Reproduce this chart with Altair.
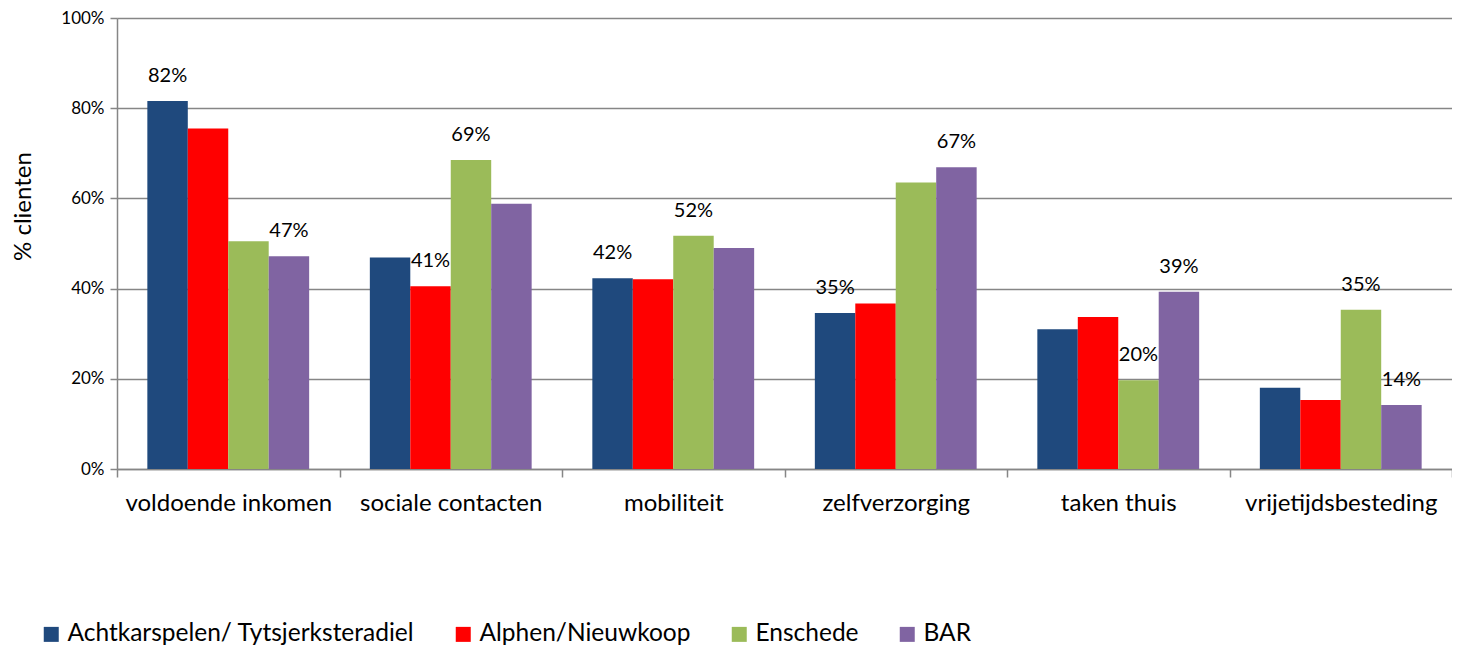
import altair as alt
import pandas as pd

categories = ["voldoende inkomen", "sociale contacten", "mobiliteit",
              "zelfverzorging", "taken thuis", "vrijetijdsbesteding"]
series = ["Achtkarspelen/ Tytsjerksteradiel", "Alphen/Nieuwkoop", "Enschede", "BAR"]
colors = ["#1F497D", "#FF0000", "#9BBB59", "#8064A2"]

vals_achtkarspelen = [81.6, 46.9, 42.3, 34.6, 31.0, 18.0]
vals_alphen = [75.5, 40.5, 42.1, 36.7, 33.7, 15.3]
vals_enschede = [50.5, 68.5, 51.7, 63.5, 19.7, 35.3]
vals_bar = [47.2, 58.8, 49.0, 66.9, 39.3, 14.2]

# data labels shown in the original chart (empty = no label)
labels_achtkarspelen = ["82%", "", "42%", "35%", "", ""]
labels_alphen = ["", "41%", "", "", "", ""]
labels_enschede = ["", "69%", "52%", "", "20%", "35%"]
labels_bar = ["47%", "", "", "67%", "39%", "14%"]

rows = []
for s, vals, labs in zip(series,
                         [vals_achtkarspelen, vals_alphen, vals_enschede, vals_bar],
                         [labels_achtkarspelen, labels_alphen, labels_enschede, labels_bar]):
    for c, v, l in zip(categories, vals, labs):
        rows.append({"categorie": c, "regio": s, "waarde": v / 100.0, "label": l})
df = pd.DataFrame(rows)

FONT = "Lato"
GRAY = "#868686"

x_enc = alt.X("categorie:N", sort=categories,
              scale=alt.Scale(paddingInner=0, paddingOuter=0),
              axis=alt.Axis(title=None, labelAngle=0, labelFontSize=24, labelColor="#000000",
                            labelPadding=14, labelLimit=400, tickBand="extent", tickSize=8,
                            tickColor=GRAY, domainColor=GRAY, domainWidth=1.5,
                            tickWidth=1.5, grid=False, labelFont=FONT))
xo_enc = alt.XOffset("regio:N", sort=series,
                     scale=alt.Scale(paddingOuter=0.75, paddingInner=0))
y_enc = alt.Y("waarde:Q",
              scale=alt.Scale(domain=[0, 1], nice=False),
              axis=alt.Axis(title="% clienten", format=".0%", values=[0, 0.2, 0.4, 0.6, 0.8, 1.0],
                            labelFontSize=17, labelColor="#000000", labelPadding=6,
                            titleFontSize=24, titleFontWeight="normal", titleColor="#000000",
                            titlePadding=22, titleY=188, titleX=-94, titleAngle=270,
                            titleAlign="center", titleBaseline="middle",
                            tickSize=7, tickColor=GRAY, tickWidth=1.5,
                            domainColor=GRAY, domainWidth=1.5,
                            gridColor=GRAY, gridWidth=1.5, labelFont=FONT, titleFont=FONT))

bars = alt.Chart(df).mark_bar().encode(
    x=x_enc,
    xOffset=xo_enc,
    y=y_enc,
    color=alt.Color("regio:N", sort=series,
                    scale=alt.Scale(domain=series, range=colors),
                    legend=alt.Legend(title=None, orient="none", direction="horizontal",
                                      legendX=-78, legendY=604,
                                      symbolType="square", symbolSize=225,
                                      symbolStrokeWidth=0, labelFontSize=24.5, labelFont=FONT,
                                      labelColor="#000000", columnPadding=36, labelOffset=4,
                                      labelLimit=500)),
)

text = alt.Chart(df).transform_filter(alt.datum.label != "").mark_text(
    baseline="alphabetic", dy=-19, fontSize=20, font=FONT, color="#000000"
).encode(
    x=alt.X("categorie:N", sort=categories),
    xOffset=alt.XOffset("regio:N", sort=series),
    y=alt.Y("waarde:Q"),
    text="label:N",
)

chart = alt.layer(bars, text).properties(
    width=1335, height=451,
    autosize=alt.AutoSizeParams(type="none"),
    padding={"left": 109, "top": 10, "right": 0, "bottom": 178},
).configure_view(stroke=None).configure(background="white")

chart.save("out.html", embed_options={"renderer": "svg", "actions": False})
